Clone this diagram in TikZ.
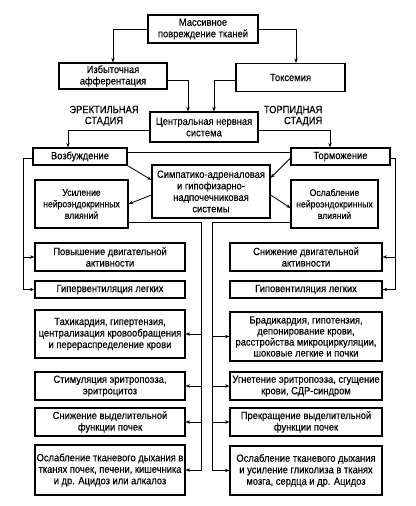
\documentclass[tikz,border=0pt]{standalone}
\usepackage{fontspec}
\setmainfont[FakeStretch=0.9,FakeBold=0.4]{Liberation Sans}
\usetikzlibrary{arrows.meta, positioning}

\begin{document}
\begin{tikzpicture}[x=1pt,y=-1pt,line width=0.8pt,>={Stealth[length=4.5pt,width=3.4pt]}]
    \tikzstyle{block}=[draw,line width=1.1pt,align=center,inner sep=1pt,font=\fontsize{10.4}{11.5}\selectfont]
    \tikzstyle{left col}=[block,minimum width=150pt]
    \tikzstyle{right col}=[block,minimum width=152pt]
    \tikzstyle{stage}=[font=\fontsize{10.4}{11}\selectfont]
    \tikzstyle{narrow}=[font=\fontsize{9.6}{11.5}\selectfont]

    \useasboundingbox (0,0) rectangle (415,506);

	\node[block,minimum width=110pt,minimum height=28pt] (M) at (203,29) {Массивное\\повреждение тканей};
	\node[block,minimum width=108pt,minimum height=26pt] (A) at (113,76) {Избыточная\\афферентация};
	\node[block,minimum width=109pt,minimum height=28pt] (T) at (290.5,77.5) {Токсемия};
	\node[block,minimum width=108pt,minimum height=30pt] (C) at (204,127) {Центральная нервная\\система};
	\node[stage,align=center] (E) at (104,116) {ЭРЕКТИЛЬНАЯ\\СТАДИЯ};
	\node[stage,align=right,anchor=east] (P) at (326,116) {ТОРПИДНАЯ\\СТАДИЯ};

	\node[block,minimum width=94pt,minimum height=17pt] (B) at (80,156.5) {Возбуждение};
	\node[block,minimum width=99pt,minimum height=17pt] (I) at (340.5,156.5) {Торможение};
	\node[block,minimum width=118pt,minimum height=53pt] (S) at (211,191.5) {Симпатико-адреналовая\\и гипофизарно-\\надпочечниковая\\системы};
	\node[block,narrow,minimum width=93pt,minimum height=48pt] (U) at (81.5,204) {Усиление\\нейроэндокринных\\влияний};
	\node[block,narrow,minimum width=87pt,minimum height=48pt] (W) at (334.5,204) {Ослабление\\нейроэндокринных\\влияний};

		 % erectile stage
		 \node[left col,minimum height=28pt] (L1) at (110,257) {Повышение двигательной\\активности};
		 \node[left col,minimum height=17pt] (L2) at (110,289.5) {Гипервентиляция легких};
		 \node[left col,minimum height=48pt] (L3) at (110,334) {Тахикардия, гипертензия,\\централизация кровообращения\\и перераспределение крови};
		 \node[left col,minimum height=28pt] (L4) at (110,386) {Стимуляция эритропоэза,\\эритроцитоз};
		 \node[left col,minimum height=28pt] (L5) at (110,422) {Снижение выделительной\\функции почек};
		 \node[left col,minimum height=50pt] (L6) at (110,470) {Ослабление тканевого дыхания в\\тканях почек, печени, кишечника\\и др. Ацидоз или алкалоз};

		 % torpid stage
		 \node[right col,minimum height=28pt] (R1) at (306,257) {Снижение двигательной\\активности};
		 \node[right col,minimum height=17pt] (R2) at (306,289.5) {Гиповентиляция легких};
		 \node[right col,minimum height=49pt,font=\fontsize{10.4}{11}\selectfont] (R3) at (306,336.5) {Брадикардия, гипотензия,\\депонирование крови,\\расстройства микроциркуляции,\\шоковые легкие и почки};
		 \node[right col,minimum height=28pt] (R4) at (306,386) {Угнетение эритропоэза, сгущение\\крови, СДР-синдром};
		 \node[right col,minimum height=28pt] (R5) at (306,422) {Прекращение выделительной\\функции почек};
		 \node[right col,minimum height=49pt] (R6) at (306,470.5) {Ослабление тканевого дыхания\\и усиление гликолиза в тканях\\мозга, сердца и др. Ацидоз};

	\draw[->] (M) -| (A);
	\draw[->] (M) -| ([xshift=5.5pt]T.north);
	\draw[->] ([yshift=-4pt]A.east) -| ([xshift=-16pt]C.north);
	\draw[->] ([yshift=-2.5pt]T.west) -| ([xshift=10pt]C.north);
	\draw[->] ([yshift=-3pt]C.west) -| ([xshift=-12pt]B.north);
	\draw[->] ([yshift=-3pt]C.east) -| ([xshift=-10.5pt]I.north);
	\draw ([yshift=4.5pt]B.east) -- ([yshift=4.5pt]I.west);

	\draw[->] (B.south east) -- ([yshift=11.5pt]S.west);
	\draw[->] ([yshift=-1.5pt]I.west) -- ([yshift=13.5pt]S.east);
	\draw[->] ([yshift=-3.5pt]S.west) -- (U.east);
	\draw[->] ([yshift=-3.5pt]S.east) -- ([yshift=-4pt]W.west);

	 \coordinate (lb) at (23,158);
	 \draw[->] ([yshift=-1.5pt]B.west) -- (lb) |- (L2);
	 \draw[->] (lb |- L1) -- (L1);
	 \coordinate (rb) at (395,158);
	 \draw[->] ([yshift=-1.5pt]I.east) -- (rb) |- (R2);
	 \draw[->] (rb |- R1) -- (R1);

	 \coordinate (lm) at (201,222);
	 \draw[->] ([yshift=-18pt]U.east) -- (lm) |- (L6);
	 \foreach \n in {L3,L4,L5} \draw[->] (lm |- \n) -- (\n);
	 \coordinate (rm) at (212,222);
	 \draw[->] ([yshift=-18pt]W.west) -- (rm) |- (R6);
	 \foreach \n in {R3,R4,R5} \draw[->] (rm |- \n) -- (\n);

\end{tikzpicture}
\end{document}
